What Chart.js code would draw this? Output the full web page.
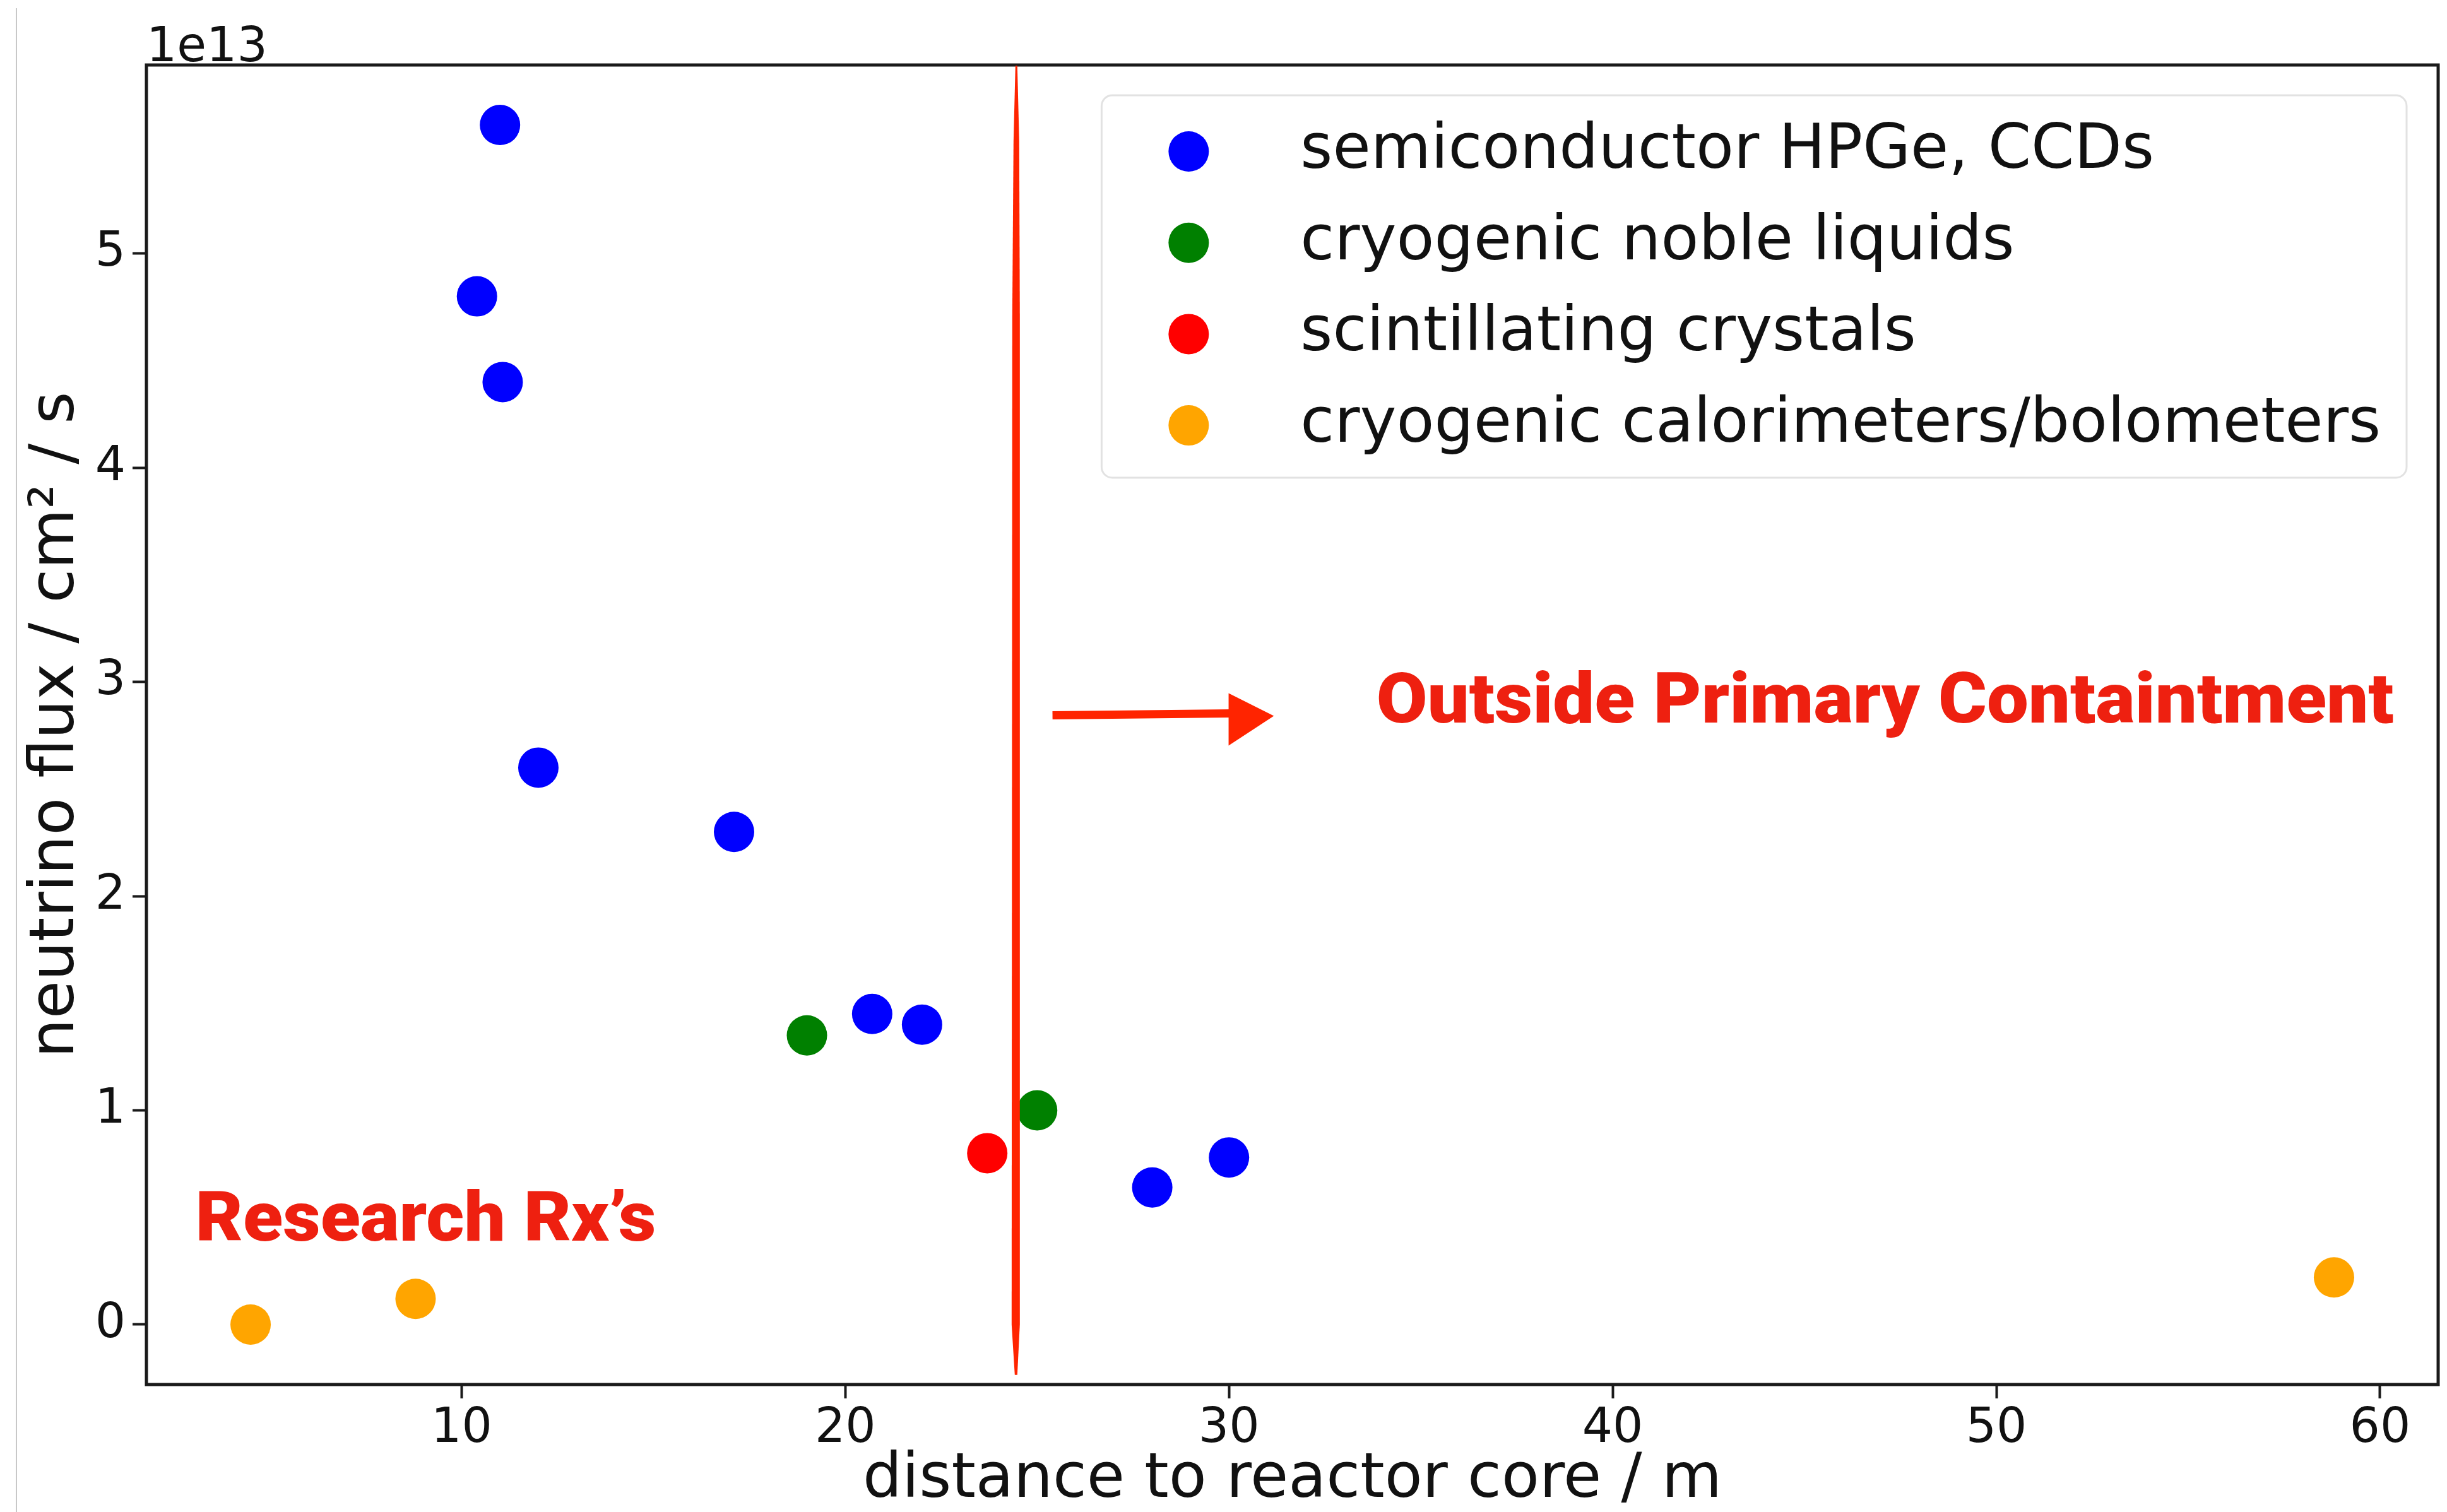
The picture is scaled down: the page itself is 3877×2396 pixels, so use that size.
<!DOCTYPE html>
<html>
<head>
<meta charset="utf-8">
<script src="https://cdn.jsdelivr.net/npm/chart.js@4.4.1/dist/chart.umd.min.js"></script>
<style>
html, body { margin: 0; padding: 0; background: #ffffff; }
canvas { display: block; }
</style>
</head>
<body>
<canvas id="c" width="3877" height="2396"></canvas>
<script>
// ---------------- data ----------------
const seriesNames = ['semiconductor HPGe, CCDs', 'cryogenic noble liquids', 'scintillating crystals', 'cryogenic calorimeters/bolometers'];
const seriesColors = ['#0000ff', '#008000', '#ff0000', '#ffa500'];

const semiX  = [11.0, 10.4, 11.07, 12.0, 17.1, 20.7, 22.0, 28.0, 30.0];
const semiY  = [5.6e13, 4.8e13, 4.4e13, 2.6e13, 2.3e13, 1.45e13, 1.4e13, 0.64e13, 0.78e13];
const nobleX = [19.0, 25.0];
const nobleY = [1.35e13, 1.0e13];
const scintX = [23.7];
const scintY = [0.8e13];
const bolomX = [4.5, 8.8, 58.8];
const bolomY = [0.0, 0.12e13, 0.22e13];

const xTicks = [10, 20, 30, 40, 50, 60];
const xTickLabels = ['10', '20', '30', '40', '50', '60'];
const yTicks = [0, 1e13, 2e13, 3e13, 4e13, 5e13];
const yTickLabels = ['0', '1', '2', '3', '4', '5'];
const offsetLabel = '1e13';
const xTitle = 'distance to reactor core / m';
const yTitle = 'neutrino flux / cm² / s';

const boundaryX = 24.45;
const noteRight = 'Outside Primary Containtment';
const noteLeft = 'Research Rx’s';

// ---------------- helpers ----------------
function pts(xs, ys) { return xs.map((x, i) => ({ x: x, y: ys[i] })); }
const allX = [].concat(semiX, nobleX, scintX, bolomX);
const allY = [].concat(semiY, nobleY, scintY, bolomY);
const xPad = 0.05 * (Math.max(...allX) - Math.min(...allX));
const yPad = 0.05 * (Math.max(...allY) - Math.min(...allY));

const seriesX = [semiX, nobleX, scintX, bolomX];
const seriesY = [semiY, nobleY, scintY, bolomY];
const datasets = seriesNames.map((name, i) => ({
  label: name,
  data: pts(seriesX[i], seriesY[i]),
  backgroundColor: seriesColors[i],
  borderColor: seriesColors[i],
  borderWidth: 0,
  pointRadius: 32,
  pointHoverRadius: 32,
  pointStyle: 'circle'
}));

const RED = '#ff2400';
const TEXT_RED = '#ee2010';

function stretchedText(ctx, text, x, y, targetW) {
  const w = ctx.measureText(text).width;
  ctx.save();
  ctx.translate(x, y);
  ctx.scale(targetW / w, 1);
  ctx.fillText(text, 0, 0);
  ctx.restore();
}

const decor = {
  id: 'decor',
  beforeDraw(chart) {
    const ctx = chart.ctx;
    ctx.save();
    ctx.fillStyle = '#ffffff';
    ctx.fillRect(0, 0, chart.width, chart.height);
    ctx.fillStyle = '#c8c8c8';
    ctx.fillRect(25, 13, 2, chart.height - 13);
    ctx.restore();
  },
  afterDraw(chart) {
    const ctx = chart.ctx;
    const a = chart.chartArea;
    const xs = chart.scales.x, ys = chart.scales.y;
    ctx.save();

    // frame (spines)
    ctx.strokeStyle = '#1a1a1a';
    ctx.lineWidth = 5;
    ctx.strokeRect(a.left, a.top, a.right - a.left, a.bottom - a.top);

    // offset text
    ctx.fillStyle = '#111111';
    ctx.font = '76px "DejaVu Sans"';
    ctx.textAlign = 'left';
    ctx.textBaseline = 'alphabetic';
    ctx.fillText(offsetLabel, a.left, a.top - 6);

    // legend
    ctx.font = '98px "DejaVu Sans"';
    let maxW = 0;
    chart.data.datasets.forEach(d => { maxW = Math.max(maxW, ctx.measureText(d.label).width); });
    const boxRight = a.right - 50;
    const boxTop = a.top + 48;
    const textOff = 315;
    const boxLeft = boxRight - 41 - maxW - textOff;
    const rowH = 144.7;
    const boxH = 606;
    ctx.beginPath();
    ctx.roundRect(boxLeft, boxTop, boxRight - boxLeft, boxH, 17);
    ctx.fillStyle = 'rgba(255,255,255,0.8)';
    ctx.fill();
    ctx.strokeStyle = '#e2e2e2';
    ctx.lineWidth = 3;
    ctx.stroke();
    chart.data.datasets.forEach((d, i) => {
      const cy = boxTop + 89 + i * rowH;
      ctx.beginPath();
      ctx.arc(boxLeft + 138, cy, 32, 0, Math.PI * 2);
      ctx.fillStyle = d.backgroundColor;
      ctx.fill();
      ctx.fillStyle = '#111111';
      ctx.fillText(d.label, boxLeft + textOff, cy + 26);
    });

    // hand-drawn boundary line
    const bx = xs.getPixelForValue(boundaryX);
    const by0 = a.top + 1;
    const by1 = ys.getPixelForValue(-0.235e13);
    ctx.beginPath();
    ctx.moveTo(bx - 1, by0);
    ctx.lineTo(bx + 2, by0);
    ctx.lineTo(bx + 5, by0 + 120);
    ctx.lineTo(bx + 6, by0 + 400);
    ctx.lineTo(bx + 6, by1 - 80);
    ctx.lineTo(bx + 2, by1);
    ctx.lineTo(bx - 2, by1);
    ctx.lineTo(bx - 7, by1 - 80);
    ctx.lineTo(bx - 6, by0 + 400);
    ctx.lineTo(bx - 4, by0 + 120);
    ctx.closePath();
    ctx.fillStyle = RED;
    ctx.fill();

    // arrow
    const ax0 = xs.getPixelForValue(25.4);
    const ax1 = xs.getPixelForValue(29.99);
    const ax2 = xs.getPixelForValue(31.17);
    const ay = ys.getPixelForValue(2.85e13);
    ctx.strokeStyle = RED;
    ctx.lineWidth = 13;
    ctx.lineCap = 'butt';
    ctx.beginPath();
    ctx.moveTo(ax0, ay + 2);
    ctx.lineTo(ax1 + 4, ay - 1);
    ctx.stroke();
    ctx.beginPath();
    ctx.moveTo(ax1, ay - 33);
    ctx.lineTo(ax2, ay + 3);
    ctx.lineTo(ax1, ay + 50);
    ctx.closePath();
    ctx.fillStyle = RED;
    ctx.fill();

    // annotation texts
    ctx.fillStyle = TEXT_RED;
    ctx.textAlign = 'left';
    ctx.textBaseline = 'alphabetic';
    ctx.font = '900 112px Roboto';
    stretchedText(ctx, noteRight, xs.getPixelForValue(33.84), ys.getPixelForValue(2.81e13), 1612);
    ctx.font = '900 110px Roboto';
    stretchedText(ctx, noteLeft, xs.getPixelForValue(3.06), ys.getPixelForValue(0.393e13), 730);

    ctx.restore();
  }
};

Chart.defaults.font.family = '"DejaVu Sans"';
Chart.defaults.color = '#111111';

new Chart(document.getElementById('c'), {
  type: 'scatter',
  data: { datasets: datasets },
  options: {
    responsive: false,
    devicePixelRatio: 1,
    animation: false,
    events: [],
    layout: { autoPadding: false, padding: { left: 0, top: 103, right: 14, bottom: 0 } },
    plugins: {
      legend: { display: false },
      tooltip: { enabled: false },
      title: { display: false }
    },
    scales: {
      x: {
        type: 'linear',
        position: 'bottom',
        min: Math.min(...allX) - xPad,
        max: Math.max(...allX) + xPad,
        afterBuildTicks(scale) { scale.ticks = xTicks.map(v => ({ value: v })); },
        afterFit(scale) { scale.height = 202; scale.paddingLeft = 0; scale.paddingRight = 0; },
        ticks: {
          callback: (v, i) => xTickLabels[i],
          font: { size: 76 },
          color: '#111111',
          padding: 4,
          maxRotation: 0,
          autoSkip: false
        },
        grid: { display: true, drawOnChartArea: false, drawTicks: true, tickLength: 22, tickWidth: 4, tickColor: '#1a1a1a' },
        border: { display: false },
        title: { display: true, text: xTitle, font: { size: 98, lineHeight: 1 }, color: '#111111', padding: { top: 0, bottom: 0 } }
      },
      y: {
        type: 'linear',
        position: 'left',
        min: Math.min(...allY) - yPad,
        max: Math.max(...allY) + yPad,
        afterBuildTicks(scale) { scale.ticks = yTicks.map(v => ({ value: v })); },
        afterFit(scale) { scale.width = 232; scale.paddingTop = 0; scale.paddingBottom = 0; },
        ticks: {
          callback: (v, i) => yTickLabels[i],
          font: { size: 76 },
          color: '#111111',
          padding: 11,
          autoSkip: false
        },
        grid: { display: true, drawOnChartArea: false, drawTicks: true, tickLength: 22, tickWidth: 4, tickColor: '#1a1a1a' },
        border: { display: false },
        title: { display: true, text: yTitle, font: { size: 98, lineHeight: 1 }, color: '#111111', padding: { top: 42, bottom: 0 } }
      }
    }
  },
  plugins: [decor]
});
</script>
</body>
</html>
